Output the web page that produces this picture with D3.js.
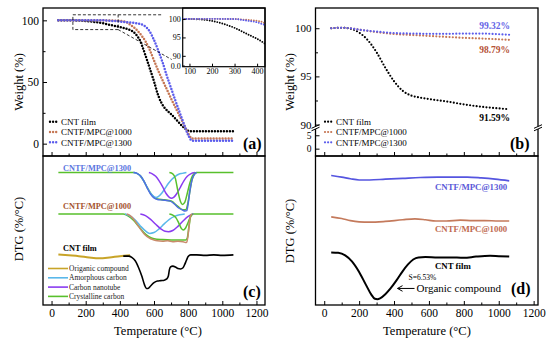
<!DOCTYPE html>
<html>
<head>
<meta charset="utf-8">
<script src="https://cdn.jsdelivr.net/npm/d3@7/dist/d3.min.js"></script>
<style>
body { margin: 0; background: #fff; }
</style>
</head>
<body>
<div id="chart"></div>
<script>
// sample names for legends
var sampleNames = ['CNT film', 'CNTF/MPC@1000', 'CNTF/MPC@1300'];

// (a) TGA in air, [temperature, weight %]
var tgaCnt = [[40,100],[100,100],[150,99.9],[200,99.5],[250,98.7],[300,97.6],[350,96.1],[400,94.6],[430,93.5],[460,92],[480,90.5],[500,87.5],[520,83],[540,75.5],[560,67.5],[580,59],[600,50.5],[620,41],[640,34],[660,29.5],[680,26.5],[700,24],[720,21],[740,18],[760,15],[780,12.5],[800,10.5],[815,10],[1070,10]];
var tga1000 = [[40,100],[200,100.05],[300,100],[350,99.8],[400,99.5],[430,99],[460,96.5],[480,94.5],[500,92],[525,88],[550,83],[575,76],[600,67.5],[625,59],[650,51.5],[675,44],[700,36.5],[725,29.5],[750,22.5],[775,15.5],[800,8.5],[815,5],[825,4.2],[1070,4.2]];
var tga1300 = [[40,100],[200,100.05],[300,100],[350,99.6],[400,99.1],[430,98.5],[460,98.2],[500,97.6],[525,96.8],[550,95],[575,91],[600,84],[625,75.5],[650,66],[675,55],[700,45],[725,35],[750,25.5],[775,16],[800,7],[815,3.2],[825,2.3],[1070,2.3]];

// (b) TGA, [temperature, weight %]
var tgbCnt = [[40,100],[100,100.05],[150,99.95],[200,99.55],[250,98.75],[300,97.5],[350,95.9],[400,94.5],[450,93.5],[500,93.0],[550,92.8],[600,92.65],[700,92.4],[800,92.1],[900,91.85],[1000,91.68],[1060,91.59]];
var tgb1000 = [[40,100],[100,100.05],[150,100],[200,99.85],[300,99.6],[400,99.4],[500,99.3],[600,99.2],[700,99.1],[800,99.0],[900,98.93],[1000,98.85],[1060,98.79]];
var tgb1300 = [[40,100],[100,100.05],[150,100],[200,99.85],[300,99.65],[400,99.5],[500,99.45],[600,99.42],[700,99.42],[800,99.45],[900,99.45],[1000,99.38],[1060,99.32]];
var endLabels = ['91.59%', '98.79%', '99.32%'];

// (c) DTG, [temperature, DTG relative to each curve's baseline]
var dtgOrganic = [[40,0.02],[100,0],[160,-0.02],[220,-0.05],[280,-0.07],[340,-0.05],[400,-0.02],[460,0]];
var dtgCnt = [[420,-0.02],[450,-0.02],[470,-0.05],[490,-0.13],[510,-0.3],[530,-0.52],[545,-0.72],[555,-0.8],[565,-0.8],[580,-0.74],[600,-0.66],[620,-0.62],[640,-0.61],[660,-0.6],[675,-0.57],[684,-0.5],[690,-0.35],[697,-0.28],[710,-0.26],[725,-0.28],[740,-0.32],[755,-0.33],[770,-0.3],[780,-0.22],[790,-0.12],[800,-0.03],[815,0.01],[850,0.01],[900,0],[950,0.01],[1000,0],[1065,0.01]];

var dtg1000Fit = [[40,0],[420,0],[450,-0.05],[480,-0.15],[510,-0.3],[540,-0.45],[570,-0.55],[600,-0.6],[650,-0.62],[700,-0.63],[750,-0.63],[785,-0.63],[795,-0.58],[805,-0.3],[815,-0.05],[825,0],[1065,0]];
var dtg1000 = [[440,0],[460,-0.04],[480,-0.12],[500,-0.24],[520,-0.36],[540,-0.47],[560,-0.55],[580,-0.6],[600,-0.63],[620,-0.65],[650,-0.66],[680,-0.65],[710,-0.67],[740,-0.66],[770,-0.67],[785,-0.69],[792,-0.68],[800,-0.5],[806,-0.25],[812,-0.08],[820,0]];
var dtg1000Amorphous = [[430,0],[460,-0.05],[490,-0.15],[520,-0.29],[550,-0.41],[575,-0.47],[600,-0.45],[630,-0.36],[660,-0.24],[690,-0.13],[720,-0.06],[750,-0.02],[780,0]];
var dtg1000Nanotube = [[520,0],[550,-0.04],[580,-0.13],[610,-0.25],[640,-0.36],[665,-0.42],[685,-0.43],[710,-0.4],[740,-0.3],[770,-0.17],[800,-0.06],[830,0]];
var dtg1000Crystalline = [[690,0],[710,-0.03],[730,-0.1],[745,-0.22],[760,-0.35],[772,-0.39],[785,-0.34],[800,-0.2],[812,-0.08],[825,0]];

var dtg1300Fit = [[40,0],[480,0],[500,-0.02],[520,-0.08],[540,-0.2],[560,-0.36],[580,-0.5],[600,-0.6],[620,-0.64],[660,-0.66],[700,-0.69],[740,-0.82],[770,-0.9],[785,-0.9],[798,-0.75],[810,-0.45],[822,-0.18],[835,-0.05],[850,0],[1065,0]];
var dtg1300 = [[480,0],[500,-0.02],[520,-0.08],[540,-0.2],[560,-0.37],[580,-0.52],[600,-0.61],[620,-0.65],[640,-0.66],[665,-0.67],[695,-0.69],[720,-0.76],[742,-0.85],[765,-0.9],[782,-0.93],[792,-0.92],[800,-0.75],[810,-0.45],[821,-0.2],[835,-0.05],[850,0]];
var dtg1300Amorphous = [[480,0],[500,-0.02],[520,-0.08],[540,-0.2],[560,-0.36],[580,-0.5],[600,-0.58],[612,-0.6],[625,-0.58],[645,-0.5],[665,-0.38],[685,-0.26],[705,-0.16],[725,-0.09],[745,-0.04],[765,-0.02],[790,0]];
var dtg1300Nanotube = [[570,0],[590,-0.03],[610,-0.09],[630,-0.2],[650,-0.34],[670,-0.5],[690,-0.6],[702,-0.62],[715,-0.6],[735,-0.5],[755,-0.35],[775,-0.2],[795,-0.09],[815,-0.03],[840,0]];
var dtg1300Crystalline = [[690,0],[710,-0.03],[725,-0.14],[740,-0.45],[755,-0.7],[766,-0.77],[780,-0.72],[795,-0.5],[810,-0.25],[825,-0.08],[845,0]];
var componentNames = ['Origanic compound', 'Amorphous carbon', 'Carbon nanotube', 'Crystalline carbon'];

// (d) DTG, [temperature, DTG relative to baseline]
var dtgdCnt = [[40,0.07],[80,0.06],[120,0],[160,-0.15],[200,-0.4],[240,-0.72],[270,-0.95],[290,-1.05],[305,-1.06],[320,-1.04],[350,-0.94],[380,-0.8],[415,-0.6],[450,-0.38],[480,-0.22],[510,-0.1],[540,-0.05],[580,-0.04],[650,-0.05],[720,-0.05],[800,-0.06],[870,-0.03],[950,-0.01],[1000,-0.02],[1060,-0.03]];
var dtgd1000 = [[40,0.08],[100,0.04],[150,-0.01],[200,-0.04],[260,-0.05],[350,-0.03],[450,0.01],[520,0.03],[580,0.01],[640,-0.02],[700,-0.02],[780,0],[850,-0.01],[920,-0.01],[1000,-0.02],[1060,-0.02]];
var dtgd1300 = [[40,0.07],[100,0.03],[150,-0.01],[200,-0.04],[260,-0.04],[350,-0.02],[450,0],[550,0.02],[650,0.03],[750,0.03],[820,0.03],[900,0.01],[980,-0.02],[1060,-0.06]];

// ticks
var xTicks = [0, 200, 400, 600, 800, 1000, 1200];
var xMinor = [100, 300, 500, 700, 900, 1100];
var yTicksA = [0, 50, 100];
var yMinorA = [25, 75];
var yTicksBhi = [90, 95, 100];
var yMinorBhi = [92.5, 97.5];
var yTicksBlo = [0, 5];
var insetXTicks = [100, 200, 300, 400];
var insetYTicks = [90, 95, 100];

// stacking offsets for DTG panels
var offC = [0, 1, 2];
var offD = [0, 0.85, 1.86];

var FONT = "'Liberation Serif', 'Times New Roman', serif";
var colCnt = '#000', col1000 = '#c57653', col1300 = '#5b5cec';
var colGreen = '#58c02c', colLight = '#5ab8ea', colPurple = '#8a3cf0', colGold = '#c8a428';

var svg = d3.select('#chart').append('svg')
	.attr('width', 550).attr('height', 342)
	.attr('font-family', FONT)
	.style('font-family', FONT);

var xL = d3.scaleLinear().domain([-50, 1250]).range([43, 265]);
var xR = d3.scaleLinear().domain([-50, 1225]).range([315.5, 538]);
var yA = d3.scaleLinear().domain([-10, 110]).range([156, 8]);
var yBhi = d3.scaleLinear().domain([89.8, 102.1]).range([126.5, 8]);
var yBlo = d3.scaleLinear().domain([-3.5, 6.6]).range([156, 129]);
var yC = d3.scaleLinear().domain([-1.2, 2.4]).range([305, 156]);
var yD = yC.copy();
var xI = d3.scaleLinear().domain([70, 435]).range([182.7, 265]);
var yI = d3.scaleLinear().domain([89, 103]).range([59.5, 8]);
var yIlo = d3.scaleLinear().domain([0, 1]).range([65.5, 62]);

function lineGen(x, y, off) {
	off = off || 0;
	return d3.line()
		.x(function(d) { return x(d[0]); })
		.y(function(d) { return y(d[1] + off); })
		.curve(d3.curveMonotoneX);
}

function dotted(g, data, x, y, color, w, gap) {
	g.append('path').datum(data)
		.attr('d', lineGen(x, y))
		.attr('fill', 'none')
		.attr('stroke', color)
		.attr('stroke-width', w)
		.attr('stroke-linecap', 'round')
		.attr('stroke-dasharray', '0,' + gap);
}

function solid(g, data, x, y, off, color, w) {
	g.append('path').datum(data)
		.attr('d', lineGen(x, y, off))
		.attr('fill', 'none')
		.attr('stroke', color)
		.attr('stroke-width', w)
		.attr('stroke-linejoin', 'round');
}

function addAxis(axis, transform, fs) {
	var g = svg.append('g').attr('transform', transform).call(axis);
	g.select('.domain').remove();
	g.attr('font-family', FONT).attr('font-size', fs);
	g.selectAll('text').attr('fill', '#000').style('font-family', FONT);
	g.selectAll('line').attr('stroke', '#000');
	return g;
}

function xAxes(x, y, labels) {
	addAxis(d3.axisBottom(x).tickValues(xMinor).tickSizeInner(-2.5).tickSizeOuter(0).tickFormat(''), 'translate(0,' + y + ')', 11.5);
	var ax = d3.axisBottom(x).tickValues(xTicks).tickSizeInner(-4).tickSizeOuter(0).tickPadding(4)
		.tickFormat(labels ? d3.format('d') : '');
	addAxis(ax, 'translate(0,' + y + ')', 11.5);
}

function frame(x0, y0, x1, y1) {
	svg.append('rect')
		.attr('x', x0).attr('y', y0)
		.attr('width', x1 - x0).attr('height', y1 - y0)
		.attr('fill', 'none').attr('stroke', '#000').attr('stroke-width', 1.3);
}

function label(x, y, str, opts) {
	var t = svg.append('text').attr('x', x).attr('y', y).text(str);
	opts = opts || {};
	t.attr('font-size', opts.size || 11)
		.attr('font-weight', opts.bold ? 'bold' : 'normal')
		.attr('fill', opts.color || '#000')
		.attr('text-anchor', opts.anchor || 'start')
		.style('font-family', FONT);
	return t;
}

function yTitle(x, y, str) {
	svg.append('text')
		.attr('transform', 'translate(' + x + ',' + y + ') rotate(-90)')
		.attr('text-anchor', 'middle')
		.attr('font-size', 12.5)
		.style('font-family', FONT)
		.text(str);
}

// ---------- panel (a) ----------
var gA = svg.append('g');
dotted(gA, tgaCnt, xL, yA, colCnt, 2.5, 3);
dotted(gA, tga1000, xL, yA, col1000, 2.5, 3);
dotted(gA, tga1300, xL, yA, col1300, 2.5, 3);

// zoom box and connectors
var bx0 = xL(125), bx1 = xL(390), by0 = yA(104.5), by1 = yA(92.5);
svg.append('rect').attr('x', bx0).attr('y', by0).attr('width', bx1 - bx0).attr('height', by1 - by0)
	.attr('fill', 'none').attr('stroke', '#000').attr('stroke-width', 0.8).attr('stroke-dasharray', '3,2');
svg.append('path').attr('d', 'M' + bx1 + ',' + by0 + 'H' + (xI.range()[0] - 20))
	.attr('stroke', '#000').attr('stroke-width', 0.8).attr('stroke-dasharray', '3,2');
svg.append('path').attr('d', 'M' + bx1 + ',' + by1 + 'L' + (xI.range()[0] - 11) + ',' + (yIlo(0) - 6))
	.attr('stroke', '#000').attr('stroke-width', 0.8).attr('stroke-dasharray', '3,2');

// inset
var ix0 = xI.range()[0], ix1 = xI.range()[1], iy0 = 8, iy1 = 66.7;
svg.append('rect').attr('x', ix0).attr('y', iy0).attr('width', ix1 - ix0).attr('height', iy1 - iy0)
	.attr('fill', '#fff').attr('stroke', '#000').attr('stroke-width', 1.2);
svg.append('clipPath').attr('id', 'insetClip').append('rect')
	.attr('x', ix0).attr('y', iy0).attr('width', ix1 - ix0).attr('height', iy1 - iy0);
var gI = svg.append('g').attr('clip-path', 'url(#insetClip)');
dotted(gI, tgaCnt, xI, yI, colCnt, 1.9, 2.6);
dotted(gI, tga1000, xI, yI, col1000, 1.9, 2.6);
dotted(gI, tga1300, xI, yI, col1300, 1.9, 2.6);
addAxis(d3.axisBottom(xI).tickValues(insetXTicks).tickSizeInner(-3).tickSizeOuter(0).tickPadding(2), 'translate(0,' + iy1 + ')', 8);
addAxis(d3.axisLeft(yI).tickValues(insetYTicks).tickSizeInner(-3).tickSizeOuter(0).tickPadding(2), 'translate(' + ix0 + ',0)', 8);
addAxis(d3.axisLeft(yIlo).tickValues([0]).tickSizeInner(-2).tickSizeOuter(0).tickPadding(2), 'translate(' + ix0 + ',0)', 8);

// legend (a)
var legCols = [colCnt, col1000, col1300];
sampleNames.forEach(function(n, i) {
	var ly = 121.7 + i * 10.3;
	svg.append('path').attr('d', 'M50,' + ly + 'h9').attr('stroke', legCols[i]).attr('stroke-width', 2.4)
		.attr('stroke-linecap', 'round').attr('stroke-dasharray', '0,3.1');
	label(61, ly + 3.2, n, {size: 9});
});

frame(43, 8, 265, 156);
addAxis(d3.axisLeft(yA).tickValues(yMinorA).tickSizeInner(-2.5).tickSizeOuter(0).tickFormat(''), 'translate(43,0)', 11.5);
addAxis(d3.axisLeft(yA).tickValues(yTicksA).tickSizeInner(-4).tickSizeOuter(0).tickPadding(4), 'translate(43,0)', 11.5);
xAxes(xL, 156, false);
label(243, 148.5, '(a)', {size: 16, bold: true});
yTitle(23, 82, 'Weight (%)');

// ---------- panel (b) ----------
var gB = svg.append('g');
dotted(gB, tgbCnt, xR, yBhi, colCnt, 2.2, 3.3);
dotted(gB, tgb1000, xR, yBhi, col1000, 2.2, 3.3);
dotted(gB, tgb1300, xR, yBhi, col1300, 2.2, 3.3);

sampleNames.forEach(function(n, i) {
	var ly = 121.7 + i * 10.3;
	svg.append('path').attr('d', 'M325,' + ly + 'h9').attr('stroke', legCols[i]).attr('stroke-width', 2.2)
		.attr('stroke-linecap', 'round').attr('stroke-dasharray', '0,3.1');
	label(336, ly + 3.2, n, {size: 9});
});

var lastCnt = tgbCnt[tgbCnt.length - 1], last1000 = tgb1000[tgb1000.length - 1], last1300 = tgb1300[tgb1300.length - 1];
label(510, yBhi(lastCnt[1]) + 12, endLabels[0], {size: 9.5, bold: true, anchor: 'end'});
label(510, yBhi(last1000[1]) + 13, endLabels[1], {size: 9.5, bold: true, anchor: 'end', color: '#b55236'});
label(510, yBhi(last1300[1]) - 6, endLabels[2], {size: 9.5, bold: true, anchor: 'end', color: '#6565e6'});

frame(315.5, 8, 538, 156);
addAxis(d3.axisLeft(yBhi).tickValues(yMinorBhi).tickSizeInner(-2.5).tickSizeOuter(0).tickFormat(''), 'translate(315.5,0)', 11.5);
addAxis(d3.axisLeft(yBhi).tickValues(yTicksBhi).tickSizeInner(-4).tickSizeOuter(0).tickPadding(4), 'translate(315.5,0)', 11);
addAxis(d3.axisLeft(yBlo).tickValues(yTicksBlo).tickSizeInner(-4).tickSizeOuter(0).tickPadding(4), 'translate(315.5,2)', 9.5);
xAxes(xR, 156, false);

// axis break marks
var brk1 = yBhi(89.8), brk2 = yBlo(6.6);
[315.5, 538].forEach(function(bx) {
	svg.append('rect').attr('x', bx - 2).attr('y', brk1).attr('width', 4).attr('height', brk2 - brk1).attr('fill', '#fff');
	[brk1, brk2].forEach(function(by) {
		svg.append('path').attr('d', 'M' + (bx - 4) + ',' + (by + 1.8) + 'L' + (bx + 4) + ',' + (by - 1.8))
			.attr('stroke', '#000').attr('stroke-width', 1);
	});
});
label(510, 148.5, '(b)', {size: 16, bold: true});
yTitle(294, 82, 'Weight (%)');

// ---------- panel (c) ----------
var gC = svg.append('g');
solid(gC, dtgOrganic, xL, yC, offC[0], colGold, 2);
solid(gC, dtgCnt, xL, yC, offC[0], '#000', 1.6);

solid(gC, dtg1000Fit, xL, yC, offC[1], colGreen, 1.6);
solid(gC, dtg1000Amorphous, xL, yC, offC[1], colLight, 1.5);
solid(gC, dtg1000Nanotube, xL, yC, offC[1], colPurple, 1.5);
solid(gC, dtg1000Crystalline, xL, yC, offC[1], colGreen, 1.5);
solid(gC, dtg1000, xL, yC, offC[1], '#c98b6b', 1.5);

solid(gC, dtg1300Fit, xL, yC, offC[2], colGreen, 1.6);
solid(gC, dtg1300Amorphous, xL, yC, offC[2], colLight, 1.5);
solid(gC, dtg1300Nanotube, xL, yC, offC[2], colPurple, 1.5);
solid(gC, dtg1300Crystalline, xL, yC, offC[2], colGreen, 1.5);
solid(gC, dtg1300, xL, yC, offC[2], '#4f6fe3', 1.5);

label(63, yC(offC[2]) - 1.5, sampleNames[2], {size: 8.3, bold: true, color: '#5a74e0'});
label(63, yC(offC[1]) - 4.5, sampleNames[1], {size: 8.3, bold: true, color: '#a5532f'});
label(63, yC(offC[0]) - 4, sampleNames[0], {size: 8.3, bold: true});

var compCols = [colGold, colLight, colPurple, colGreen];
componentNames.forEach(function(n, i) {
	var ly = 268.5 + i * 9.3;
	svg.append('path').attr('d', 'M48,' + ly + 'h20').attr('stroke', compCols[i]).attr('stroke-width', 1.6);
	label(69, ly + 2.6, n, {size: 7.5, color: '#222'});
});

frame(43, 156, 265, 305);
xAxes(xL, 305, true);
label(243, 297, '(c)', {size: 16, bold: true});
yTitle(23, 229, 'DTG (%/°C)');

// ---------- panel (d) ----------
var gD = svg.append('g');
solid(gD, dtgd1300, xR, yD, offD[2], '#5555e0', 1.7);
solid(gD, dtgd1000, xR, yD, offD[1], '#c47a5c', 1.7);
solid(gD, dtgdCnt, xR, yD, offD[0], '#000', 2);

label(435, 190, sampleNames[2], {size: 8.8, bold: true, color: '#5a5ad8'});
label(435, 231.5, sampleNames[1], {size: 8.8, bold: true, color: '#c06a50'});
label(435, 269, sampleNames[0], {size: 8.8, bold: true});

var ax = xR(420), ay = yD(-0.8);
svg.append('path').attr('d', 'M' + (ax + 17) + ',' + ay + 'H' + ax + 'M' + (ax + 5) + ',' + (ay - 2.8) + 'L' + ax + ',' + ay + 'L' + (ax + 5) + ',' + (ay + 2.8))
	.attr('fill', 'none').attr('stroke', '#000').attr('stroke-width', 1);
label(ax + 19, ay + 3.7, 'Organic compound', {size: 11});
label(ax + 11, ay - 8, 'S=6.53%', {size: 7.5});

frame(315.5, 156, 538, 305);
xAxes(xR, 305, true);
label(511, 293.5, '(d)', {size: 16, bold: true});
yTitle(294, 231, 'DTG (%/°C)');

// x titles
label(158, 335, 'Temperature (°C)', {size: 12.5, anchor: 'middle'});
label(427, 335, 'Temperature (°C)', {size: 12.5, anchor: 'middle'});
</script>
</body>
</html>
